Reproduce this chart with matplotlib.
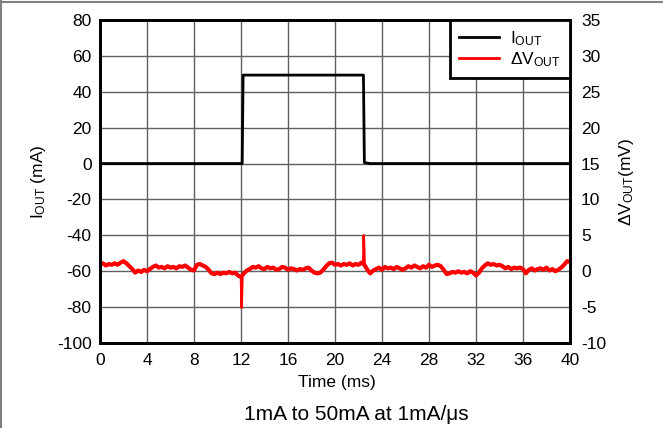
import matplotlib
matplotlib.use('Agg')
import matplotlib.pyplot as plt
from matplotlib.lines import Line2D
import numpy as np

plt.rcParams['font.family'] = ['Liberation Sans', 'DejaVu Sans']
plt.rcParams['mathtext.fontset'] = 'custom'
plt.rcParams['mathtext.rm'] = 'Liberation Sans'
plt.rcParams['mathtext.it'] = 'Liberation Sans'
plt.rcParams['axes.unicode_minus'] = False

# load current step (mA)
iout_t = [0, 12.1, 12.18, 22.42, 22.5, 23.0, 40]
iout_ma = [0, 0, 49.3, 49.3, 0.5, 0, 0]

# output voltage deviation (mV), one value every 0.25 ms
dv_mv = [0.9, 1.1, 0.8, 1.0, 0.9, 1.1, 0.9, 1.2, 1.4,
         1.1, 0.7, 0.3, -0.2,
         0.1, -0.1, 0.2, 0.0,
         0.3, 0.6, 0.8, 0.5,
         0.6, 0.4, 0.7, 0.5, 0.6, 0.4, 0.7, 0.6, 0.8, 0.5, 0.2,
         0.1, 0.9, 1.0, 0.8, 0.6,
         0.2, -0.3, -0.4,
         -0.2, -0.4, -0.2, -0.3, -0.1, -0.3, -0.2, -0.6,
         -0.8,
         -0.3, 0.1, 0.3, 0.6,
         0.5, 0.7, 0.4, 0.3, 0.6, 0.4, 0.5, 0.2, 0.3, 0.6, 0.5, 0.2, 0.4, 0.3, 0.1, 0.3, 0.2, 0.4, 0.5,
         0.1, -0.2, -0.3, -0.2, 0.2,
         0.7, 1.1, 1.2,
         0.9, 1.0, 0.8, 1.0, 0.9, 1.1, 0.8, 1.0, 0.9, 1.2,
         0.9,
         0.2, -0.3, 0.1,
         0.3, 0.5, 0.2, 0.6, 0.4, 0.5, 0.3, 0.6, 0.4, 0.2, 0.4,
         0.7, 0.5, 0.8, 0.6, 0.4, 0.7, 0.5, 0.9, 0.6, 0.8, 0.9, 0.7,
         0.2, -0.4, -0.3,
         -0.1, -0.2, 0.0, -0.2, -0.1, -0.3, 0.0, -0.2,
         -0.6,
         -0.2, 0.4, 0.8, 1.1,
         0.9, 1.0, 0.8, 0.9, 0.7,
         0.4, 0.6, 0.3, 0.5, 0.4, 0.5, 0.3,
         -0.3,
         0.2, 0.4, 0.1, 0.3, 0.4, 0.2, 0.5, 0.1, 0.3, 0.0,
         0.2, 0.5, 0.9, 1.4, 1.3]
dv_t = np.linspace(0, 40, len(dv_mv))

# load transient spikes (drawn thinner)
spike1_t = [12.0, 12.05, 12.12]
spike1_mv = [-0.8, -5.1, -1.0]
spike2_t = [22.4, 22.45, 22.52]
spike2_mv = [1.0, 5.0, 1.0]

fig = plt.figure(figsize=(6.63, 4.28), dpi=100)
ax = fig.add_axes([100 / 663, 85 / 428, 470 / 663, 323 / 428])
ax2 = ax.twinx()

l1, = ax.plot(iout_t, iout_ma, c='k', lw=2, label=r'I$_{\mathrm{OUT}}$')
l2, = ax2.plot(dv_t, dv_mv, c='#ff0000', lw=3, label=r'ΔV$_{\mathrm{OUT}}$')
ax2.plot(spike1_t, spike1_mv, c='#ff0000', lw=1.8)
ax2.plot(spike2_t, spike2_mv, c='#ff0000', lw=1.8)

ax.set_xlim(0, 40)
ax.set_ylim(-100, 80)
ax2.set_ylim(-10, 35)
ax.set_xticks(np.arange(0, 41, 4))
ax.set_yticks(np.arange(-100, 81, 20))
ax2.set_yticks(np.arange(-10, 36, 5))
ax.grid(True, color='#606060', lw=1)

for a in (ax, ax2):
    for s in a.spines.values():
        s.set_linewidth(2)
        s.set_color('k')
ax.tick_params(axis='x', length=0, pad=7, labelsize=12.5)
ax.tick_params(axis='y', length=0, pad=6, labelsize=12.5)
ax2.tick_params(axis='y', length=0, pad=8, labelsize=12.5)

leg = ax2.legend(handles=[l1, l2], loc='upper right', borderaxespad=0,
                 fancybox=False, fontsize=12.5, handlelength=2.3,
                 handletextpad=0.6, borderpad=0.55, labelspacing=0.1)
leg.get_frame().set_edgecolor('k')
leg.get_frame().set_linewidth(2)
leg.get_frame().set_alpha(1)
for h in leg.get_lines():
    h.set_linewidth(2)

fig.text(38 / 663, 1 - 182 / 428, r'I$_{\mathrm{OUT}}$ (mA)', rotation=90,
         ha='center', va='center', fontsize=12.5)
fig.text(627 / 663, 1 - 182 / 428, r'ΔV$_{\mathrm{OUT}}$(mV)', rotation=90,
         ha='center', va='center', fontsize=12.5)
fig.text(337 / 663, 1 - 382 / 428, 'Time (ms)', ha='center', va='center', fontsize=12.5)
fig.text(356 / 663, 1 - 415 / 428, '1mA to 50mA at 1mA/μs', ha='center', va='center', fontsize=15)

# thin frame at top and left edge
fig.add_artist(Line2D([0, 1], [1 - 1.5 / 428, 1 - 1.5 / 428], color='#808080', lw=1.5))
fig.add_artist(Line2D([0.8 / 663, 0.8 / 663], [0, 1], color='#808080', lw=1.5))

plt.savefig('out.png', dpi=100)
